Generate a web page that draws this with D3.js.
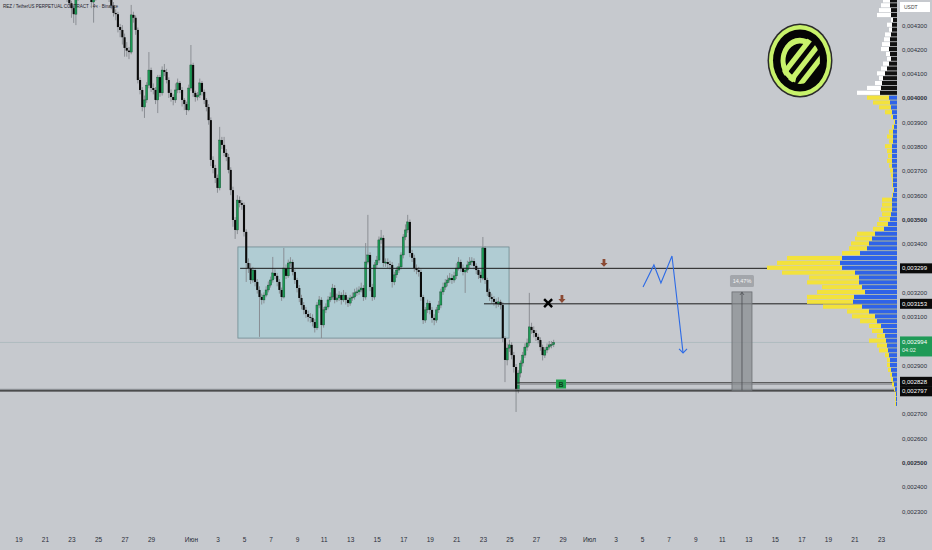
<!DOCTYPE html>
<html><head><meta charset="utf-8">
<script src="https://cdn.jsdelivr.net/npm/d3@7/dist/d3.min.js"></script>
<style>body{margin:0;background:#c6c9ce;overflow:hidden}svg{display:block;font-family:"Liberation Sans",Arial,sans-serif}</style>
</head><body><svg id="c" width="932" height="550"></svg>
<script>
// ---- DATA (prices in millionths of USDT) ----
const firstCandle = '2024-05-22T04:00:00Z'; // 4h candles
const firstOpen = 4460;
const closes = [
4450,4440,4420,4410,4390,4370,4345,4410,4430,4460,
4470,4450,4440,4420,4395,4420,4440,4450,4460,4450,
4440,4430,4410,4380,4350,4345,4292,4280,4250,4206,
4195,4189,4342,4330,4280,4074,4033,3963,3992,4053,
4115,4041,4033,3992,4086,4021,4115,4107,4074,4021,
4004,3992,4033,4062,4033,3992,3975,3951,4041,4136,
4021,4004,4012,4062,4025,3992,3963,3909,3745,3712,
3671,3630,3827,3807,3774,3757,3704,3621,3498,3457,
3580,3568,3560,3449,3321,3300,3251,3292,3243,3210,
3181,3169,3189,3210,3230,3251,3280,3268,3243,3210,
3181,3300,3268,3321,3325,3284,3251,3218,3177,3148,
3128,3111,3099,3095,3078,3054,3148,3169,3066,3128,
3140,3169,3181,3218,3169,3177,3189,3169,3189,3169,
3156,3177,3181,3198,3202,3210,3218,3181,3325,3354,
3222,3181,3313,3333,3416,3424,3321,3325,3317,3313,
3243,3272,3292,3305,3354,3428,3457,3490,3362,3342,
3300,3292,3284,3181,3086,3128,3156,3128,3095,3086,
3128,3148,3202,3222,3239,3251,3259,3251,3268,3300,
3325,3300,3284,3292,3313,3325,3329,3309,3292,3272,
3259,3383,3251,3202,3181,3173,3161,3152,3161,3148,
3012,2922,2971,2984,2942,2893,2798,2868,2909,2942,
2975,2992,3058,3045,3033,3017,3004,2975,2942,2963,
2975,2984,2985,2994];
const highs = [
4475,4460,4450,4430,4420,4400,4380,4420,4445,4475,
4485,4480,4460,4450,4430,4430,4450,4465,4475,4470,
4460,4450,4440,4420,4395,4365,4355,4305,4300,4265,
4230,4210,4383,4355,4340,4290,4085,4045,4010,4065,
4189,4125,4060,4045,4095,4095,4130,4140,4120,4085,
4035,4015,4060,4080,4070,4045,4000,3985,4055,4218,
4145,4030,4025,4080,4070,4035,4000,3975,3920,3760,
3725,3685,3881,3840,3840,3790,3770,3715,3635,3510,
3600,3595,3580,3570,3460,3340,3320,3305,3300,3255,
3225,3195,3200,3225,3245,3265,3346,3295,3280,3255,
3220,3383,3315,3335,3345,3335,3295,3260,3230,3190,
3160,3140,3125,3115,3110,3090,3160,3185,3180,3140,
3155,3185,3200,3235,3230,3195,3205,3200,3210,3200,
3180,3190,3200,3215,3220,3225,3240,3230,3403,3519,
3365,3235,3325,3350,3430,3457,3435,3340,3340,3330,
3325,3285,3305,3320,3365,3440,3480,3519,3500,3375,
3355,3315,3305,3295,3190,3140,3170,3165,3140,3110,
3140,3165,3215,3240,3255,3270,3280,3275,3285,3320,
3345,3335,3315,3305,3330,3345,3345,3340,3320,3300,
3285,3428,3390,3260,3215,3195,3185,3175,3180,3170,
3160,3020,2990,3005,2995,2955,2905,2880,2920,2955,
2990,3010,3198,3075,3060,3045,3030,3015,2985,2975,
2990,3000,3000,3005];
const lows = [
4440,4430,4405,4395,4375,4330,4309,4300,4400,4420,
4450,4440,4425,4405,4370,4310,4400,4430,4440,4435,
4425,4415,4395,4365,4335,4320,4270,4250,4220,4170,
4170,4160,4180,4310,4260,4060,4015,3945,3918,3980,
4040,4025,4015,3975,3938,4005,4010,4090,4060,4000,
3985,3970,3980,4020,4020,3965,3950,3930,3945,4030,
4005,3985,3990,4000,4010,3975,3945,3890,3720,3690,
3650,3610,3620,3790,3760,3740,3690,3600,3470,3420,
3440,3550,3540,3430,3243,3280,3235,3240,3225,3195,
3017,3150,3155,3180,3200,3220,3240,3255,3225,3195,
3165,3175,3255,3260,3305,3270,3235,3200,3160,3130,
3110,3095,3080,3075,3060,3035,3045,3135,3012,3055,
3115,3130,3160,3170,3155,3160,3165,3150,3160,3150,
3140,3145,3165,3170,3185,3190,3200,3165,3170,3315,
3205,3165,3170,3300,3320,3400,3305,3305,3300,3295,
3220,3230,3260,3280,3295,3340,3415,3445,3345,3325,
3285,3275,3265,3165,3070,3075,3115,3110,3075,3065,
3075,3115,3135,3190,3210,3225,3240,3235,3240,3255,
3290,3285,3270,3198,3280,3300,3310,3295,3275,3255,
3240,3250,3235,3185,3165,3155,3145,3135,3140,3130,
2995,2831,2900,2955,2925,2870,2708,2785,2850,2895,
2930,2960,2980,3030,3015,3000,2990,2960,2920,2930,
2950,2965,2970,2975];

// volume profile rows (price, total, inner part)
const vpPrices = d3.range(4400, 2739, -20);
const vpTotal = [
14,16,18,20,6,10,8,12,13,15,
16,11,10,14,16,20,18,22,30,40,
30,24,18,12,6,3,5,8,10,8,
12,10,9,10,8,7,6,5,5,4,
5,15,15,16,15,18,20,24,40,42,
46,48,55,110,120,130,115,88,90,75,
80,90,90,74,50,45,37,28,25,20,
28,20,18,12,10,10,9,7,6,5,
3,2,2,2];
const vpInner = [
7,7,6,6,4,5,5,6,7,7,
8,7,6,8,10,12,14,15,16,17,
8,7,6,5,4,2,3,4,4,4,
5,5,5,5,5,4,4,4,4,3,
4,5,5,5,6,7,9,13,22,25,
28,30,37,55,57,55,42,38,38,35,
32,43,44,35,28,22,20,16,14,12,
11,10,9,8,7,7,6,5,4,3,
2,1,1,1];

// axes
const priceTicks = d3.range(4300, 2299, -100);
const boldTicks = [4000, 3500, 2500];
const timeTicks = ['2024-05-19','2024-05-21','2024-05-23','2024-05-25','2024-05-27','2024-05-29',
 '2024-06-01','2024-06-03','2024-06-05','2024-06-07','2024-06-09','2024-06-11','2024-06-13','2024-06-15',
 '2024-06-17','2024-06-19','2024-06-21','2024-06-23','2024-06-25','2024-06-27','2024-06-29',
 '2024-07-01','2024-07-03','2024-07-05','2024-07-07','2024-07-09','2024-07-11','2024-07-13','2024-07-15',
 '2024-07-17','2024-07-19','2024-07-21','2024-07-23'];
const timeLabels = ['19','21','23','25','27','29','Июн','3','5','7','9','11','13','15','17','19','21','23','25','27','29',
 'Июл','3','5','7','9','11','13','15','17','19','21','23'];

// annotations
const levelPrices = [3299, 3153, 2828, 2797];
const levelStarts = ['2024-06-04T17:00Z','2024-06-23T02:00Z','2024-06-25T14:00Z','2024-05-17T00:00Z'];
const lastPrice = 2994, countdown = '04:02';
const boxTimes = ['2024-06-04T13:00Z','2024-06-24T23:20Z'];
const boxPrices = [3387, 3012];
const pathTimes = ['2024-07-05T01:40Z','2024-07-05T21:20Z','2024-07-06T10:00Z','2024-07-07T06:00Z','2024-07-08T02:00Z'];
const pathPrices = [3222, 3313, 3239, 3350, 2951];
const arrowTimes = ['2024-07-02T03:00Z','2024-06-28T23:00Z'];
const arrowPrices = [3305, 3156];
const crossTime = '2024-06-27T22:00Z', crossPrice = 3156;
const bTime = '2024-06-28T21:20Z', bPrice = 2823;
const measureTimes = ['2024-07-11T18:30Z','2024-07-13T06:40Z'];
const measurePrices = [2797, 3202];
const measureLabel = '14,47%';
const title = 'REZ / TetherUS PERPETUAL CONTRACT · 4ч · Binance';

// ---- DRAW ----
const W = 932, H = 550, paneR = 897, paneB = 527;
const svg = d3.select('#c');
const x = d3.scaleUtc().domain([new Date('2024-05-19T00:00Z'), new Date('2024-07-23T00:00Z')]).range([18.4, 881]);
const y = d3.scaleLinear().domain([2300, 4300]).range([511.1, 25.1]);
const fmt = v => (v / 1e6).toFixed(6).replace('.', ',');

svg.append('rect').attr('width', W).attr('height', H).attr('fill', '#c6c9ce');
svg.append('defs').append('clipPath').attr('id', 'pane').append('rect').attr('width', paneR).attr('height', paneB);
const pane = svg.append('g').attr('clip-path', 'url(#pane)');

// faint last price line
pane.append('line').attr('x1', 0).attr('x2', paneR).attr('y1', y(lastPrice)).attr('y2', y(lastPrice))
  .attr('stroke', '#a9b9bd').attr('stroke-width', 0.8);

// range box
pane.append('rect').attr('x', x(new Date(boxTimes[0]))).attr('y', y(boxPrices[0]))
  .attr('width', x(new Date(boxTimes[1])) - x(new Date(boxTimes[0])))
  .attr('height', y(boxPrices[1]) - y(boxPrices[0]))
  .attr('fill', '#a8ccd4').attr('fill-opacity', 0.75).attr('stroke', '#6f8b91').attr('stroke-width', 0.8);

// candles
const t0 = new Date(firstCandle).getTime();
const candles = closes.map((c, i) => ({
  t: new Date(t0 + i * 4 * 3600e3), o: i === 0 ? firstOpen : closes[i - 1], c, h: highs[i], l: lows[i]
}));
const bw = 2.1;
const cg = pane.append('g');
cg.selectAll('line').data(candles).join('line')
  .attr('x1', d => x(d.t)).attr('x2', d => x(d.t))
  .attr('y1', d => y(d.h)).attr('y2', d => y(d.l))
  .attr('stroke', '#85888d').attr('stroke-width', 0.9);
cg.selectAll('rect').data(candles).join('rect')
  .attr('x', d => x(d.t) - bw / 2).attr('width', bw)
  .attr('y', d => y(Math.max(d.o, d.c)))
  .attr('height', d => Math.max(1, Math.abs(y(d.o) - y(d.c))))
  .attr('fill', d => d.c >= d.o ? '#1c9a55' : '#0b0b0b')
  .attr('stroke', d => d.c >= d.o ? '#0e3a22' : 'none').attr('stroke-width', 0.35);

// levels
levelPrices.forEach((p, i) => {
  const yy = y(p);
  const x0 = x(new Date(levelStarts[i]));
  if (i === 3) {
    pane.append('line').attr('x1', x0).attr('x2', paneR).attr('y1', yy - 1).attr('y2', yy - 1).attr('stroke', '#7f8287').attr('stroke-width', 1);
    pane.append('line').attr('x1', x0).attr('x2', paneR).attr('y1', yy + 0.6).attr('y2', yy + 0.6).attr('stroke', '#222').attr('stroke-width', 1.2);
  } else if (i === 2) {
    pane.append('line').attr('x1', x0).attr('x2', paneR).attr('y1', yy).attr('y2', yy).attr('stroke', '#333').attr('stroke-width', 1);
    pane.append('line').attr('x1', x0).attr('x2', paneR).attr('y1', yy + 1.6).attr('y2', yy + 1.6).attr('stroke', '#8a8d92').attr('stroke-width', 0.8);
  } else {
    pane.append('line').attr('x1', x0).attr('x2', paneR).attr('y1', yy).attr('y2', yy).attr('stroke', '#1c1c1c').attr('stroke-width', 1);
  }
});

// measurement box
const mx0 = x(new Date(measureTimes[0])), mx1 = x(new Date(measureTimes[1]));
const my0 = y(measurePrices[1]), my1 = y(measurePrices[0]);
pane.append('rect').attr('x', mx0).attr('y', my0).attr('width', mx1 - mx0).attr('height', my1 - my0)
  .attr('fill', '#8a8d92').attr('fill-opacity', 0.75).attr('stroke', '#6c6f74').attr('stroke-width', 0.8);
const mxc = (mx0 + mx1) / 2;
pane.append('line').attr('x1', mxc).attr('x2', mxc).attr('y1', my0).attr('y2', my1).attr('stroke', '#4a4d52').attr('stroke-width', 0.8);
pane.append('path').attr('d', `M${mxc - 2},${my0 + 3}L${mxc},${my0 + 0.5}L${mxc + 2},${my0 + 3}`).attr('fill', 'none').attr('stroke', '#4a4d52').attr('stroke-width', 0.8);
pane.append('rect').attr('x', mxc - 12).attr('y', my0 - 17).attr('width', 24).attr('height', 12).attr('rx', 1.5).attr('fill', '#a3a6ab');
pane.append('text').attr('x', mxc).attr('y', my0 - 9).attr('text-anchor', 'middle').attr('font-size', 5.5).attr('fill', '#f4f4f4').text(measureLabel);

// blue forecast path
const pts = pathTimes.map((t, i) => [x(new Date(t)), y(pathPrices[i])]);
pane.append('path').attr('d', d3.line()(pts)).attr('fill', 'none').attr('stroke', '#2d6be6').attr('stroke-width', 1.1);
const [ex, ey] = pts[pts.length - 1];
pane.append('path').attr('d', `M${ex - 4},${ey - 4}L${ex},${ey}L${ex + 4},${ey - 4}`).attr('fill', 'none').attr('stroke', '#2d6be6').attr('stroke-width', 1.1);

// brown arrows
arrowTimes.forEach((t, i) => {
  const ax = x(new Date(t)), ay = y(arrowPrices[i]);
  pane.append('path').attr('d', `M${ax - 1.4},${ay - 8}h2.8v4h2.2l-3.6,3.8l-3.6,-3.8h2.2z`).attr('fill', '#8b4a34');
});

// cross
const cx = x(new Date(crossTime)), cy = y(crossPrice);
pane.append('path').attr('d', `M${cx - 4},${cy - 4}L${cx + 4},${cy + 4}M${cx + 4},${cy - 4}L${cx - 4},${cy + 4}`).attr('stroke', '#000').attr('stroke-width', 2.4);

// B label
const bx = x(new Date(bTime)), by = y(bPrice);
pane.append('rect').attr('x', bx - 5).attr('y', by - 4.5).attr('width', 10).attr('height', 9).attr('fill', '#1ea14c');
pane.append('text').attr('x', bx).attr('y', by + 2.5).attr('text-anchor', 'middle').attr('font-size', 7).attr('font-weight', 'bold').attr('fill', '#0f3d1f').text('B');

// volume profile
const vpW = d3.scaleLinear().domain([0, 130]).range([0, 130]);
const vp = svg.append('g');
vpPrices.forEach((p, i) => {
  const top = y(p + 10), bot = y(p - 10);
  const h = Math.max(0.5, bot - top - 0.7);
  const up = p > 4000;
  vp.append('rect').attr('x', paneR - vpW(vpTotal[i])).attr('y', top).attr('width', vpW(vpTotal[i])).attr('height', h)
    .attr('fill', up ? '#ffffff' : '#f3e23c');
  vp.append('rect').attr('x', paneR - vpW(vpInner[i])).attr('y', top).attr('width', vpW(vpInner[i])).attr('height', h)
    .attr('fill', up ? '#111111' : '#2f63e8');
});

// logo
const lg = svg.append('g').attr('transform', 'translate(800,60.5)');
lg.append('ellipse').attr('rx', 32.5).attr('ry', 37).attr('fill', '#2b2b2b');
lg.append('ellipse').attr('rx', 31).attr('ry', 35.5).attr('fill', '#c8f26b');
lg.append('ellipse').attr('rx', 27).attr('ry', 31).attr('fill', '#050505');
svg.select('defs').append('clipPath').attr('id', 'lgc').append('ellipse').attr('rx', 20).attr('ry', 23.5);
const inner = lg.append('g').attr('clip-path', 'url(#lgc)');
inner.append('path').attr('transform', 'scale(1,1.17)')
  .attr('d', d3.arc().innerRadius(14.5).outerRadius(19.5).startAngle(Math.PI * 1.08).endAngle(Math.PI * 2.12)())
  .attr('fill', '#c8f26b');
const stripes = inner.append('g').attr('transform', 'rotate(38)');
[-5, 5, 15].forEach(o => stripes.append('rect').attr('x', o - 2.6).attr('y', -40).attr('width', 5.2).attr('height', 80).attr('fill', '#c8f26b'));

// title
svg.append('text').attr('x', 3).attr('y', 8).attr('font-size', 5.6).attr('fill', '#1e222d')
  .attr('textLength', 115).attr('lengthAdjust', 'spacingAndGlyphs').text(title);

// bottom axis
const xa = svg.append('g').attr('transform', `translate(0,${paneB + 7})`)
  .call(d3.axisBottom(x).tickValues(timeTicks.map(d => new Date(d + 'T00:00Z'))).tickSize(0).tickFormat((d, i) => timeLabels[i]));
xa.select('.domain').remove();
xa.selectAll('text').attr('font-size', 6.5).attr('fill', '#2a2e39').attr('font-family', '"Liberation Sans Narrow","Liberation Sans",Arial,sans-serif');

// right axis
const ya = svg.append('g').attr('transform', `translate(${paneR + 5},0)`)
  .call(d3.axisRight(y).tickValues(priceTicks).tickSize(0).tickFormat(fmt));
ya.select('.domain').remove();
ya.selectAll('text').attr('font-size', 6).attr('fill', '#2a2e39').attr('x', 0)
  .attr('font-weight', d => boldTicks.includes(d) ? 'bold' : 'normal');

// USDT box
svg.append('rect').attr('x', paneR + 3).attr('y', 2).attr('width', 30).attr('height', 10).attr('fill', '#ffffff');
svg.append('text').attr('x', paneR + 7).attr('y', 9).attr('font-size', 5).attr('fill', '#444').text('USDT');

// level labels (push apart when overlapping)
const lab = levelPrices.map(p => ({ p, yy: y(p) }));
lab.sort((a, b) => a.yy - b.yy);
for (let i = 1; i < lab.length; i++) if (lab[i].yy - lab[i - 1].yy < 9.5) {
  const mid = (lab[i].yy + lab[i - 1].yy) / 2; lab[i - 1].yy = mid - 4.75; lab[i].yy = mid + 4.75;
}
lab.forEach(d => {
  svg.append('rect').attr('x', paneR + 3).attr('y', d.yy - 5).attr('width', 32).attr('height', 10).attr('fill', '#0b0b0b');
  svg.append('text').attr('x', paneR + 5).attr('y', d.yy + 2.1).attr('font-size', 6).attr('fill', '#ffffff').text(fmt(d.p));
});
// last price label
const ly = y(lastPrice);
svg.append('rect').attr('x', paneR + 3).attr('y', ly - 6).attr('width', 32).attr('height', 20).attr('fill', '#1f9a57');
svg.append('text').attr('x', paneR + 5).attr('y', ly + 2).attr('font-size', 6).attr('fill', '#ffffff').text(fmt(lastPrice));
svg.append('text').attr('x', paneR + 5).attr('y', ly + 10).attr('font-size', 5.5).attr('fill', '#e8f5ec').text(countdown);
</script></body></html>
